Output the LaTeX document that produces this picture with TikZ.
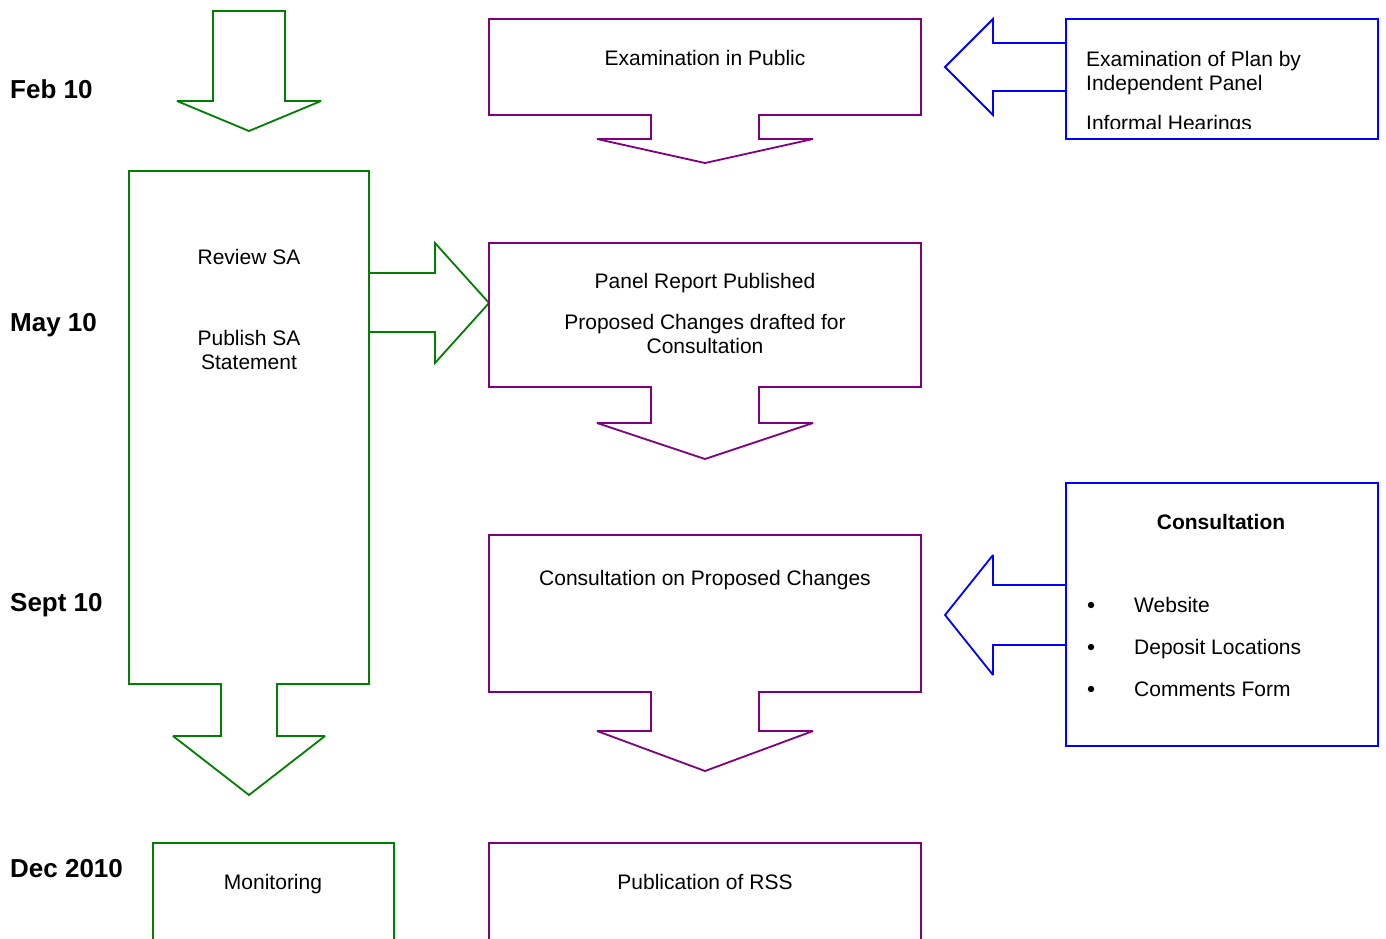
\documentclass[tikz,border=0pt]{standalone}
\usepackage{fontspec}
\setmainfont{Liberation Sans}
\definecolor{sgreen}{RGB}{0,128,0}
\definecolor{spurple}{RGB}{128,0,128}
\definecolor{sblue}{RGB}{0,0,255}
\tikzset{
  gshape/.style={draw=sgreen, line width=1.8pt, line join=miter, miter limit=3},
  pshape/.style={draw=spurple, line width=1.8pt, line join=miter, miter limit=3},
  bshape/.style={draw=sblue, line width=1.8pt, line join=miter, miter limit=3},
  txt/.style={font=\fontsize{21}{24}\selectfont, inner sep=0pt, anchor=base, align=center},
  ltxt/.style={font=\fontsize{21}{24}\selectfont, inner sep=0pt, anchor=base west, align=left},
  datelbl/.style={font=\fontsize{26}{30}\selectfont\bfseries, inner sep=0pt, anchor=base west},
}
\begin{document}
\begin{tikzpicture}[x=1pt,y=-1pt]
\useasboundingbox (0,0) rectangle (1386,938);
\clip (0,0) rectangle (1386,938);
\fill[white] (0,0) rectangle (1386,938);

% date labels
\node[datelbl] (feb) at (10,98) {Feb 10};
\node[datelbl] (may) at (10,331) {May 10};
\node[datelbl] (sept) at (10,611) {Sept 10};
\node[datelbl] (dec) at (10,877) {Dec 2010};

% green top arrow
\draw[gshape] (213,11) -- (285,11) -- (285,101) -- (321,101) -- (249,131) -- (177,101) -- (213,101) -- cycle;

% green big callout
\draw[gshape] (129,171) -- (369,171) -- (369,273) -- (435,273) -- (435,243) -- (489,303) -- (435,363) -- (435,332) -- (369,332)
  -- (369,684) -- (277,684) -- (277,736) -- (325,736) -- (249,795) -- (173,736) -- (221,736) -- (221,684) -- (129,684) -- cycle;
\draw[gshape] (369,273) -- (369,332);
\node[txt] (review) at (249,264.5) {Review SA};
\node[txt] (publishsa) at (249,369.5) {Publish SA\\Statement};

% purple callouts
\draw[pshape] (489,19) -- (921,19) -- (921,115) -- (759,115) -- (759,139) -- (813,139) -- (705,163) -- (597,139) -- (651,139) -- (651,115) -- (489,115) -- cycle;
\node[txt] (eip) at (705,65.5) {Examination in Public};

\draw[pshape] (489,243) -- (921,243) -- (921,387) -- (759,387) -- (759,423) -- (813,423) -- (705,459) -- (597,423) -- (651,423) -- (651,387) -- (489,387) -- cycle;
\node[txt] (prp) at (705,288.5) {Panel Report Published};
\node[txt] (pcd) at (705,353.5) {Proposed Changes drafted for\\Consultation};

\draw[pshape] (489,535) -- (921,535) -- (921,692) -- (759,692) -- (759,731) -- (813,731) -- (705,771) -- (597,731) -- (651,731) -- (651,692) -- (489,692) -- cycle;
\node[txt] (copc) at (705,585.5) {Consultation on Proposed Changes};

\draw[pshape] (489,960) -- (489,843) -- (921,843) -- (921,960);
\node[txt] (pub) at (705,889.5) {Publication of RSS};

% green monitoring box
\draw[gshape] (153,960) -- (153,843) -- (394,843) -- (394,960);
\node[txt] (mon) at (273,889.5) {Monitoring};

% blue callout top
\draw[bshape] (1066,19) -- (1378,19) -- (1378,139) -- (1066,139) -- (1066,91) -- (993,91) -- (993,115) -- (945,67) -- (993,19) -- (993,43) -- (1066,43) -- cycle;
\draw[bshape] (1066,43) -- (1066,91);
\node[ltxt] (eop) at (1086,90.5) {Examination of Plan by\\Independent Panel};
\begin{scope}
\clip (1066,19) rectangle (1378,128.5);
\node[ltxt] (ih) at (1086,130.5) {Informal Hearings};
\end{scope}

% blue callout bottom
\draw[bshape] (1066,483) -- (1378,483) -- (1378,746) -- (1066,746) -- (1066,645) -- (993,645) -- (993,675) -- (945,615) -- (993,555) -- (993,585) -- (1066,585) -- cycle;
\draw[bshape] (1066,585) -- (1066,645);
\node[txt,font=\fontsize{21}{24}\selectfont\bfseries] (cons) at (1221,529.5) {Consultation};
\fill (1091,605) circle (3.2);
\fill (1091,647) circle (3.2);
\fill (1091,689) circle (3.2);
\node[ltxt] (web) at (1134,612.5) {Website};
\node[ltxt] (dep) at (1134,654.5) {Deposit Locations};
\node[ltxt] (com) at (1134,696.5) {Comments Form};
\end{tikzpicture}
\end{document}
